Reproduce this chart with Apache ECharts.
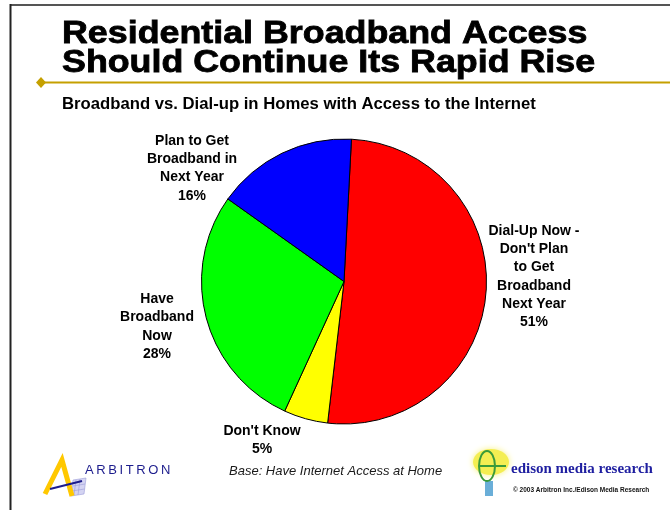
<!DOCTYPE html>
<html>
<head>
<meta charset="utf-8">
<script src="https://cdn.jsdelivr.net/npm/echarts@6/dist/echarts.min.js"></script>
<style>
  html, body { margin: 0; padding: 0; background: #ffffff; }
  #chart { width: 670px; height: 510px; }
</style>
</head>
<body>
<div id="chart"></div>
<script>
// Slide text
const titleLines = ['Residential Broadband Access', 'Should Continue Its Rapid Rise'];
const subtitle = 'Broadband vs. Dial-up in Homes with Access to the Internet';
const baseNote = 'Base: Have Internet Access at Home';
const arbitronName = 'ARBITRON';
const edisonName = 'edison media research';
const copyrightNote = '\u00A9 2003 Arbitron Inc./Edison Media Research';

// Pie data (percent of homes with Internet access)
const categories = [
  "Dial-Up Now -\nDon't Plan\nto Get\nBroadband\nNext Year",
  "Don't Know",
  "Have\nBroadband\nNow",
  "Plan to Get\nBroadband in\nNext Year"
];
const shares = [51, 5, 28, 16];
const sliceColors = ['#ff0000', '#ffff00', '#00ff00', '#0000ff'];

// Where each slice's label block is centred
const labelAnchors = [[534, 276.5], [262, 440], [157, 326.5], [192, 168.2]];

const FONT = '"Liberation Sans", Arial, Helvetica, sans-serif';

const chart = echarts.init(document.getElementById('chart'), null, { renderer: 'canvas' });

const graphics = [
  // slide frame
  { type: 'line', silent: true, shape: { x1: 10, y1: 5, x2: 670, y2: 5 }, style: { stroke: '#555555', lineWidth: 2 } },
  { type: 'line', silent: true, shape: { x1: 10.5, y1: 4, x2: 10.5, y2: 510 }, style: { stroke: '#222222', lineWidth: 2 } },
  // gold rule with diamond
  { type: 'line', silent: true, shape: { x1: 41, y1: 82.5, x2: 670, y2: 82.5 }, style: { stroke: '#c5a000', lineWidth: 2 } },
  { type: 'polygon', silent: true, shape: { points: [[36, 82.5], [41, 77], [46, 82.5], [41, 88]] }, style: { fill: '#c5a000' } },
  // title
  {
    type: 'text', silent: true, x: 62, y: 34, scaleX: 1.155,
    style: { text: titleLines[0], font: '900 31px ' + FONT, fill: '#000', stroke: '#000', lineWidth: 0.8, align: 'left', verticalAlign: 'middle' }
  },
  {
    type: 'text', silent: true, x: 62, y: 63, scaleX: 1.155,
    style: { text: titleLines[1], font: '900 31px ' + FONT, fill: '#000', stroke: '#000', lineWidth: 0.8, align: 'left', verticalAlign: 'middle' }
  },
  // subtitle
  {
    type: 'text', silent: true, x: 62, y: 104,
    style: { text: subtitle, font: 'bold 16.7px ' + FONT, fill: '#000', align: 'left', verticalAlign: 'middle' }
  },
  // base note
  {
    type: 'text', silent: true, x: 229, y: 471,
    style: { text: baseNote, font: 'italic 13px ' + FONT, fill: '#1a1a1a', align: 'left', verticalAlign: 'middle' }
  },
  // Arbitron logo
  { type: 'polygon', silent: true, shape: { points: [[73, 480], [86, 478], [84, 494], [71, 496]] }, style: { fill: '#d4d4f2', stroke: '#9a9ad8', lineWidth: 0.6 } },
  { type: 'line', silent: true, shape: { x1: 76, y1: 480, x2: 74, y2: 495 }, style: { stroke: '#9a9ad8', lineWidth: 0.6 } },
  { type: 'line', silent: true, shape: { x1: 80, y1: 479, x2: 78, y2: 495 }, style: { stroke: '#9a9ad8', lineWidth: 0.6 } },
  { type: 'line', silent: true, shape: { x1: 73, y1: 486, x2: 85, y2: 484 }, style: { stroke: '#9a9ad8', lineWidth: 0.6 } },
  { type: 'line', silent: true, shape: { x1: 72, y1: 491, x2: 84.5, y2: 489 }, style: { stroke: '#9a9ad8', lineWidth: 0.6 } },
  { type: 'polyline', silent: true, shape: { points: [[45, 494], [62, 460], [72, 496]] }, style: { stroke: '#ffc800', lineWidth: 5, lineJoin: 'miter', fill: null } },
  { type: 'line', silent: true, shape: { x1: 50, y1: 489, x2: 82, y2: 481 }, style: { stroke: '#1c1c8c', lineWidth: 2 } },
  {
    type: 'text', silent: true, x: 85, y: 470,
    style: { text: arbitronName.split('').join('\u2009'), font: '500 13px ' + FONT, fill: '#1c1c8c', align: 'left', verticalAlign: 'middle' }
  },
  // Edison logo
  { type: 'ellipse', silent: true, shape: { cx: 491, cy: 462, rx: 18, ry: 13 }, style: { fill: '#f4ee52', shadowBlur: 6, shadowColor: '#f8f280' } },
  { type: 'rect', silent: true, shape: { x: 485, y: 481, width: 8, height: 15 }, style: { fill: '#6aaed8' } },
  { type: 'ellipse', silent: true, shape: { cx: 487, cy: 466, rx: 8, ry: 15 }, style: { fill: null, stroke: '#3a9a3a', lineWidth: 2 } },
  { type: 'line', silent: true, shape: { x1: 480, y1: 466, x2: 506, y2: 466 }, style: { stroke: '#3a9a3a', lineWidth: 2 } },
  {
    type: 'text', silent: true, x: 511, y: 469,
    style: { text: edisonName, font: 'bold 15px "Liberation Serif", "Times New Roman", serif', fill: '#1e1ea0', align: 'left', verticalAlign: 'middle' }
  },
  {
    type: 'text', silent: true, x: 513, y: 490,
    style: { text: copyrightNote, font: 'bold 6.5px ' + FONT, fill: '#111', align: 'left', verticalAlign: 'middle' }
  }
];

const option = {
  backgroundColor: '#ffffff',
  animation: false,
  graphic: { elements: graphics },
  series: [{
    type: 'pie',
    silent: true,
    center: [344, 281.5],
    radius: 142.5,
    startAngle: 87,
    clockwise: true,
    avoidLabelOverlap: false,
    data: categories.map((name, i) => ({ name: name, value: shares[i], itemStyle: { color: sliceColors[i] } })),
    itemStyle: { borderColor: '#000', borderWidth: 1 },
    label: {
      show: true,
      position: 'outside',
      color: '#000',
      fontFamily: FONT,
      fontWeight: 'bold',
      fontSize: 14,
      lineHeight: 18.3,
      formatter: p => p.name + '\n' + p.value + '%'
    },
    labelLine: { show: false },
    labelLayout: params => {
      const a = labelAnchors[params.dataIndex];
      return { x: a[0], y: a[1], align: 'center', verticalAlign: 'middle' };
    },
    emphasis: { disabled: true }
  }]
};

chart.setOption(option);
</script>
</body>
</html>
